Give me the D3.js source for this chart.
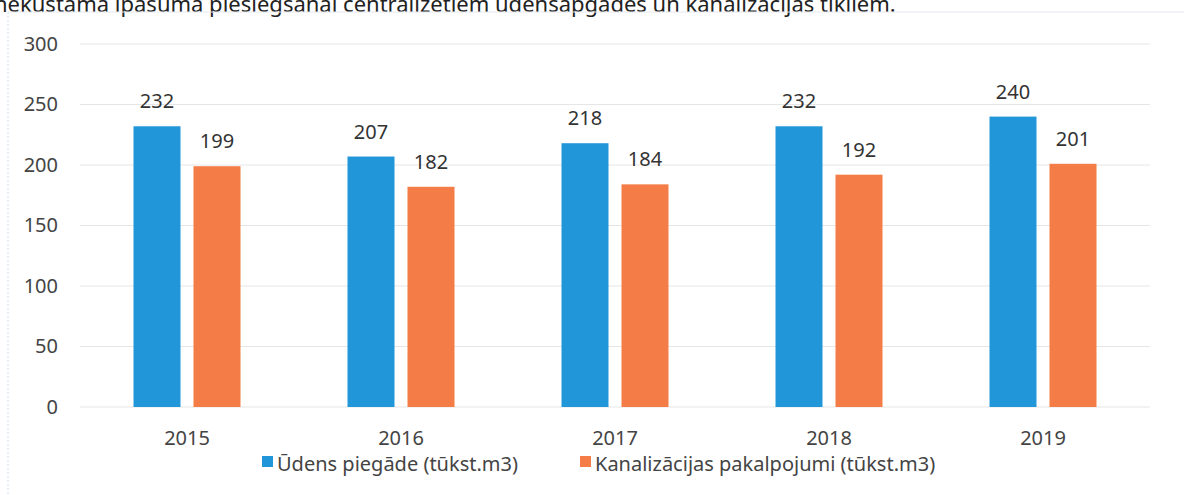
<!DOCTYPE html>
<html>
<head>
<meta charset="utf-8">
<script src="https://cdn.jsdelivr.net/npm/d3@7"></script>
<style>
  body { margin: 0; background: #fff; }
  svg { display: block; font-family: "Noto Sans", sans-serif; }
</style>
</head>
<body>
<svg id="chart" width="1184" height="495"></svg>
<script>
// values
const years = ["2015", "2016", "2017", "2018", "2019"];
const water = [232, 207, 218, 232, 240];
const sewer = [199, 182, 184, 192, 201];
const seriesNames = ["Ūdens piegāde (tūkst.m3)", "Kanalizācijas pakalpojumi (tūkst.m3)"];
const yTicks = [0, 50, 100, 150, 200, 250, 300];
const colors = ["#2196d8", "#f47c46"];

const svg = d3.select("#chart");

// line of body text above the chart (the scan cuts its top off)
svg.append("text")
    .attr("x", -6)
    .attr("y", 12)
    .style("font-size", "22px")
    .style("fill", "#222")
    .text("nekustamā īpašuma pieslēgšanai centralizētiem ūdensapgādes un kanalizācijas tīkliem.");

// page frame lines from the scan
svg.append("line")
    .attr("x1", 8).attr("x2", 1184).attr("y1", 12).attr("y2", 12)
    .style("stroke", "#e4e8ee");
svg.append("line")
    .attr("x1", 8).attr("x2", 8).attr("y1", 12).attr("y2", 495)
    .style("stroke", "#cfe0f0")
    .style("stroke-dasharray", "2 2");

const x = d3.scaleBand().domain(years).range([80, 1150]);
const y = d3.scaleLinear().domain([0, 300]).range([407, 44]);

const barW = 47, gap = 13;

// gridlines
svg.append("g")
    .selectAll("line")
    .data(yTicks)
    .join("line")
    .attr("x1", 80)
    .attr("x2", 1150)
    .attr("y1", d => y(d))
    .attr("y2", d => y(d))
    .style("stroke", "#e6e6e6");

// y axis labels
const yAxis = svg.append("g")
    .attr("transform", "translate(64,0)")
    .call(d3.axisLeft(y).tickValues(yTicks).tickSize(0).tickPadding(6));
yAxis.select(".domain").remove();
yAxis.selectAll("text")
    .style("font-family", "Noto Sans")
    .style("font-size", "20px")
    .style("fill", "#444");

const series = [water, sewer];

series.forEach((vals, s) => {
    const offset = s === 0 ? -(barW + gap / 2) : gap / 2;
    const g = svg.append("g");
    g.selectAll("rect")
        .data(vals)
        .join("rect")
        .attr("x", (d, i) => x(years[i]) + x.bandwidth() / 2 + offset)
        .attr("y", d => y(d))
        .attr("width", barW)
        .attr("height", d => y(0) - y(d))
        .style("fill", colors[s]);
    g.selectAll("text")
        .data(vals)
        .join("text")
        .attr("x", (d, i) => x(years[i]) + x.bandwidth() / 2 + offset + barW / 2)
        .attr("y", d => y(d) - 18)
        .attr("text-anchor", "middle")
        .style("font-size", "20px")
        .style("fill", "#333")
        .text(d => d);
});

// x axis labels
const xAxis = svg.append("g")
    .attr("transform", "translate(0,427)")
    .call(d3.axisBottom(x).tickSize(0).tickPadding(4));
xAxis.select(".domain").remove();
xAxis.selectAll("text")
    .style("font-family", "Noto Sans")
    .style("font-size", "20px")
    .style("fill", "#444");

// legend
const legendX = [262, 580];
const legend = svg.append("g")
    .selectAll("g")
    .data(seriesNames)
    .join("g")
    .attr("transform", (d, i) => `translate(${legendX[i]},464)`);
legend.append("rect")
    .attr("x", 0).attr("y", -8)
    .attr("width", 11).attr("height", 11)
    .style("fill", (d, i) => colors[i]);
legend.append("text")
    .attr("x", 15)
    .attr("y", 0)
    .attr("dy", "0.35em")
    .style("font-size", "20px")
    .style("fill", "#444")
    .text(d => d);
</script>
</body>
</html>
